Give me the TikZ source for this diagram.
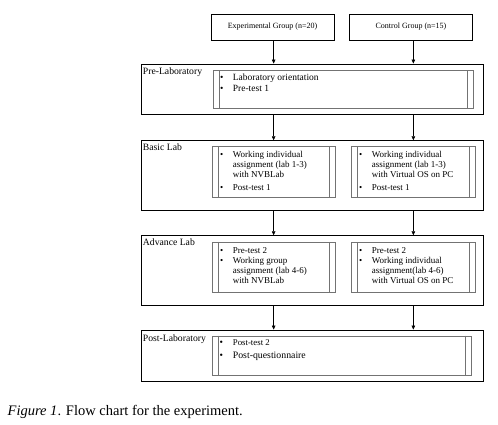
\documentclass[tikz,border=0pt]{standalone}
\usepackage{fontspec}
\setmainfont{Liberation Serif}
\usetikzlibrary{arrows.meta}
\begin{document}
\begin{tikzpicture}[x=1pt,y=-1pt,
  outer/.style={draw=black, line width=0.9pt, rectangle, inner sep=0pt},
  inbox/.style={draw=black!55, line width=0.9pt, rectangle, inner sep=0pt},
  side/.style={draw=black!55, line width=0.9pt},
  grp/.style={draw=black, line width=0.9pt, rectangle, inner sep=0pt, minimum width=123pt, minimum height=26pt, font=\fontsize{8}{9.6}\selectfont},
  lbl/.style={anchor=base west, inner sep=0pt, font=\fontsize{9.7}{11}\selectfont},
  items/.style={anchor=base west, inner sep=0pt},
  arr/.style={-{Triangle[length=4pt,width=3.6pt]}, line width=0.6pt}]
\useasboundingbox (0,0) rectangle (498,424);

% group boxes
\node[grp] (exp) at (272.5,27) {Experimental Group (n=20)};
\node[grp] (ctl) at (411,27) {Control Group (n=15)};

% Pre-Laboratory
\node[outer, minimum width=341.5pt, minimum height=50pt] (pre) at (312.25,89) {};
\node[inbox, minimum width=260pt, minimum height=38pt] (preIn) at (343,89.8) {};
\draw[side] ([xshift=6.5pt]preIn.north west) -- ([xshift=6.5pt]preIn.south west);
\draw[side] ([xshift=-6.5pt]preIn.north east) -- ([xshift=-6.5pt]preIn.south east);
\node[lbl] (preL) at (142.7,74.5) {Pre-Laboratory};
\node[items, font=\fontsize{9.5}{11}\selectfont] (preT) at (220,80.3)
  {\begin{tabular}[t]{@{}p{12.7pt}@{}l@{}}\textbullet & Laboratory orientation\\ \textbullet & Pre-test 1\end{tabular}};

% Basic Lab
\node[outer, minimum width=342pt, minimum height=69.3pt] (basic) at (312.25,175.35) {};
\node[inbox, minimum width=122.7pt, minimum height=50.6pt] (bL) at (273.65,172) {};
\node[inbox, minimum width=123.3pt, minimum height=50.6pt] (bR) at (413.35,172) {};
\draw[side] ([xshift=6.5pt]bL.north west) -- ([xshift=6.5pt]bL.south west);
\draw[side] ([xshift=-6.5pt]bL.north east) -- ([xshift=-6.5pt]bL.south east);
\draw[side] ([xshift=6.5pt]bR.north west) -- ([xshift=6.5pt]bR.south west);
\draw[side] ([xshift=-6.5pt]bR.north east) -- ([xshift=-6.5pt]bR.south east);
\node[lbl] (basicL) at (142.7,150) {Basic Lab};
\node[items, font=\fontsize{9}{10}\selectfont] (bLT) at (220,157.3)
  {\begin{tabular}[t]{@{}p{12.7pt}@{}l@{}}\textbullet & Working individual\\ & assignment (lab 1-3)\\ & with NVBLab\\[3pt] \textbullet & Post-test 1\end{tabular}};
\node[items, font=\fontsize{9}{10}\selectfont] (bRT) at (359,157.3)
  {\begin{tabular}[t]{@{}p{12.7pt}@{}l@{}}\textbullet & Working individual\\ & assignment (lab 1-3)\\ & with Virtual OS on PC\\[3pt] \textbullet & Post-test 1\end{tabular}};

% Advance Lab
\node[outer, minimum width=342pt, minimum height=70pt] (adv) at (312.25,270.7) {};
\node[inbox, minimum width=122.7pt, minimum height=50.4pt] (aL) at (273.65,267.5) {};
\node[inbox, minimum width=123.3pt, minimum height=50.4pt] (aR) at (413.35,267.5) {};
\draw[side] ([xshift=6.5pt]aL.north west) -- ([xshift=6.5pt]aL.south west);
\draw[side] ([xshift=-6.5pt]aL.north east) -- ([xshift=-6.5pt]aL.south east);
\draw[side] ([xshift=6.5pt]aR.north west) -- ([xshift=6.5pt]aR.south west);
\draw[side] ([xshift=-6.5pt]aR.north east) -- ([xshift=-6.5pt]aR.south east);
\node[lbl] (advL) at (142.7,245.7) {Advance Lab};
\node[items, font=\fontsize{9}{10}\selectfont] (aLT) at (220,253.3)
  {\begin{tabular}[t]{@{}p{12.7pt}@{}l@{}}\textbullet & Pre-test 2\\ \textbullet & Working group\\ & assignment (lab 4-6)\\ & with NVBLab\end{tabular}};
\node[items, font=\fontsize{9}{10}\selectfont] (aRT) at (359,253.3)
  {\begin{tabular}[t]{@{}p{12.7pt}@{}l@{}}\textbullet & Pre-test 2\\ \textbullet & Working individual\\ & assignment(lab 4-6)\\ & with Virtual OS on PC\end{tabular}};

% Post-Laboratory
\node[outer, minimum width=342pt, minimum height=51pt] (post) at (312.3,355.5) {};
\node[inbox, minimum width=259.4pt, minimum height=39pt] (postIn) at (342,355.5) {};
\draw[side] ([xshift=6.5pt]postIn.north west) -- ([xshift=6.5pt]postIn.south west);
\draw[side] ([xshift=-6.5pt]postIn.north east) -- ([xshift=-6.5pt]postIn.south east);
\node[lbl] (postL) at (142.7,341) {Post-Laboratory};
\node[items, font=\fontsize{9.8}{11}\selectfont] (postT) at (219.5,345.7)
  {\begin{tabular}[t]{@{}p{13.2pt}@{}l@{}}\textbullet & {\fontsize{8.8}{11}\selectfont Post-test 2}\\[1.6pt] \textbullet & Post-questionnaire\end{tabular}};

% arrows
\draw[arr] (bL.north |- exp.south) -- (bL.north |- pre.north);
\draw[arr] (bR.north |- ctl.south) -- (bR.north |- pre.north);
\draw[arr] (bL.north |- pre.south) -- (bL.north |- basic.north);
\draw[arr] (bR.north |- pre.south) -- (bR.north |- basic.north);
\draw[arr] (bL.south |- basic.south) -- (bL.north |- adv.north);
\draw[arr] (bR.south |- basic.south) -- (bR.north |- adv.north);
\draw[arr] (aL.south |- adv.south) -- (aL.south |- post.north);
\draw[arr] (aR.south |- adv.south) -- (aR.south |- post.north);

% caption
\node[anchor=base west, inner sep=0pt, font=\fontsize{14.5}{17}\selectfont] (cap) at (7.5,415.7)
  {\textit{Figure 1}. Flow chart for the experiment.};
\end{tikzpicture}
\end{document}
